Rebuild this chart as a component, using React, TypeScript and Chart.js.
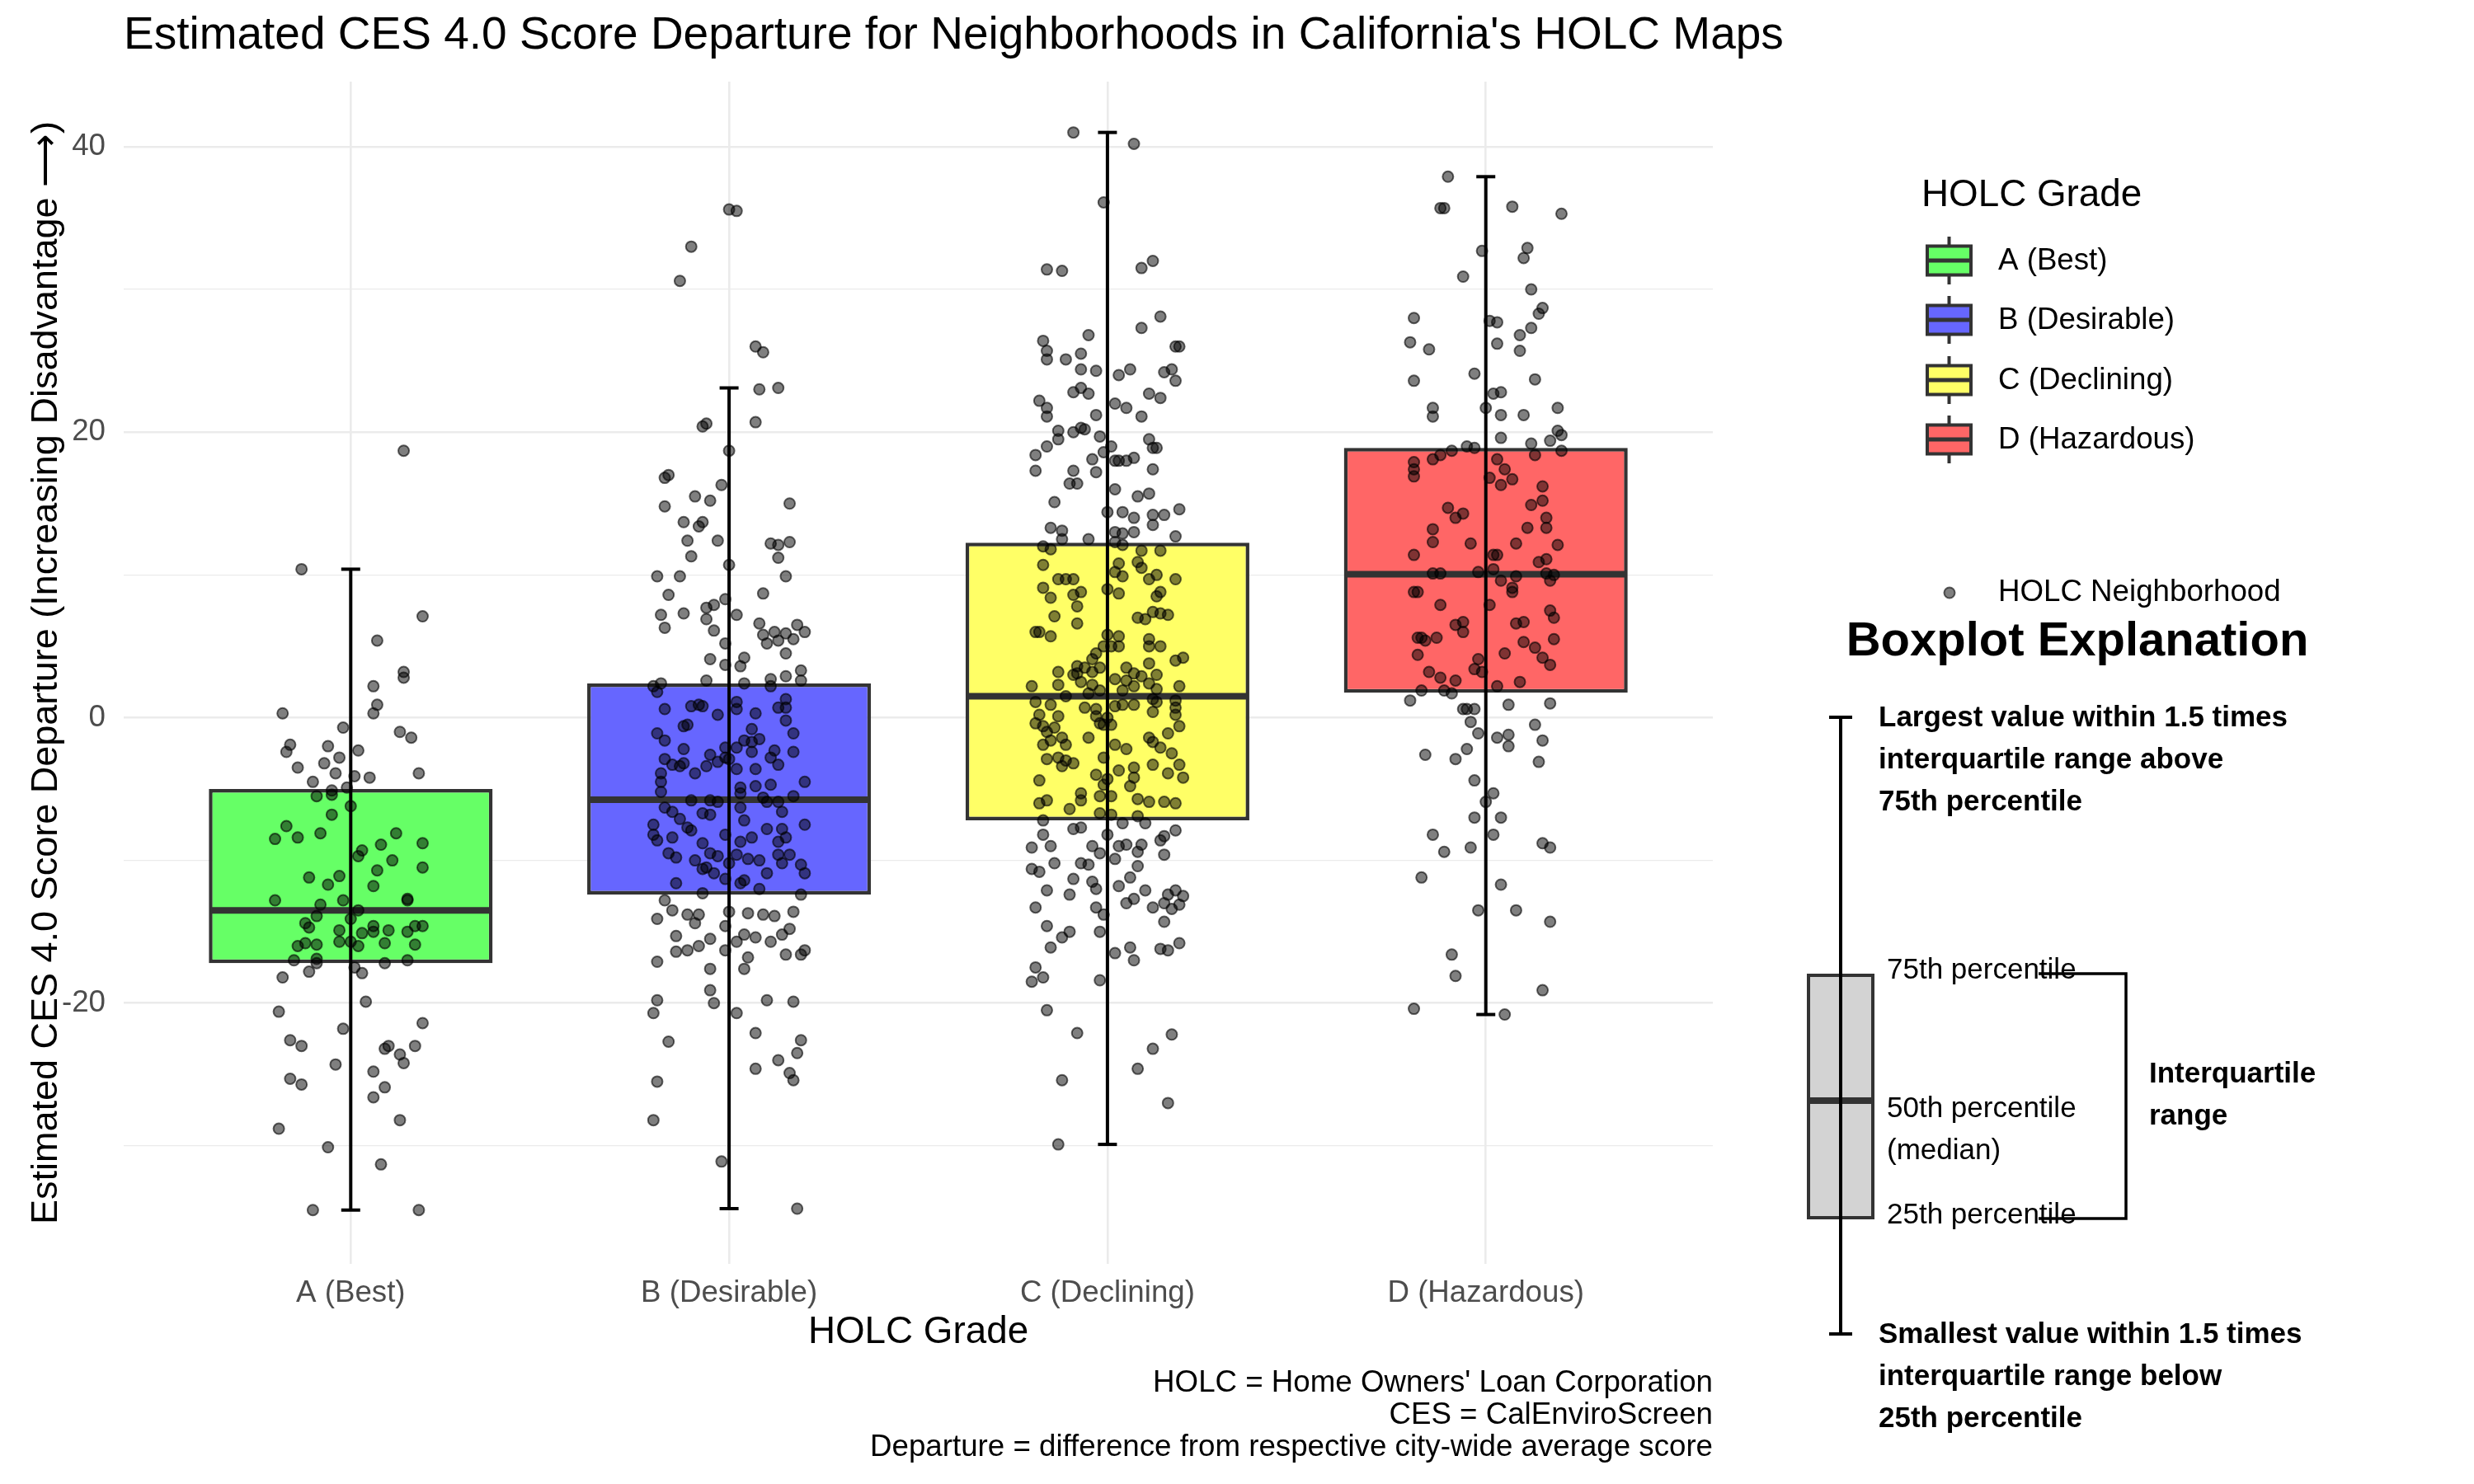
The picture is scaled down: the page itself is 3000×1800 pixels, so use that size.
import React, { useEffect, useRef } from "react";
import { Chart, registerables } from "chart.js";

Chart.register(...registerables);

const FONT = '"Liberation Sans", Arial, Helvetica, sans-serif';

// ---------------- data ----------------
const TITLE = "Estimated CES 4.0 Score Departure for Neighborhoods in California's HOLC Maps";
const Y_TITLE = "Estimated CES 4.0 Score Departure (Increasing Disadvantage \u27F6)";
const X_TITLE = "HOLC Grade";
const CAPTION = [
  "HOLC = Home Owners' Loan Corporation",
  "CES = CalEnviroScreen",
  "Departure = difference from respective city-wide average score",
];
const CATEGORIES = ["A (Best)", "B (Desirable)", "C (Declining)", "D (Hazardous)"];
const BOX_FILLS = ["#66FF66", "#6666FF", "#FFFF66", "#FF6666"];

// box statistics per grade
const Q1 = [-17.2, -12.4, -7.2, 1.75];
const MEDIAN = [-13.5, -5.75, 1.5, 10.05];
const Q3 = [-5.0, 2.4, 12.25, 18.9];
const WHISKER_LOW = [-34.5, -34.4, -29.9, -20.8];
const WHISKER_HIGH = [10.4, 23.1, 41.0, 37.9];

// y axis
const Y_MIN = -38.27;
const Y_MAX = 44.56;
const Y_GRID = [-30, -20, -10, 0, 10, 20, 30, 40];
const Y_LABELED = [-20, 0, 20, 40];

// neighborhood points: [horizontal jitter, score]
const GRADE_A_POINTS: [number, number][] = [
  [0.14, 18.7], [-0.13, 10.4], [0.19, 7.1], [0.07, 5.4], [0.14, 3.2], [0.14, 2.8], [0.06, 2.2], [0.07, 0.9],
  [0.06, 0.3], [-0.18, 0.3], [-0.02, -0.7], [0.13, -1.0], [0.16, -1.4], [-0.16, -1.9], [-0.17, -2.4], [-0.06, -2.0],
  [-0.03, -2.8], [-0.07, -3.2], [0.02, -2.3], [-0.14, -3.5], [-0.04, -3.9], [0.01, -4.1], [0.05, -4.2], [0.18, -3.9],
  [-0.1, -4.5], [-0.05, -5.1], [-0.01, -4.9], [-0.09, -5.5], [-0.05, -5.4], [0.0, -6.2], [-0.05, -6.8], [-0.17, -7.6],
  [-0.2, -8.5], [-0.14, -8.4], [-0.08, -8.1], [0.12, -8.1], [0.19, -8.8], [0.03, -9.3], [0.02, -9.7], [0.08, -8.9],
  [0.11, -10.0], [0.07, -10.7], [0.19, -10.5], [-0.11, -11.2], [-0.03, -11.1], [-0.06, -11.7], [0.06, -11.8],
  [-0.2, -12.8], [-0.02, -12.8], [0.15, -12.8], [0.15, -12.7], [-0.08, -13.1], [0.02, -13.5], [-0.09, -13.9],
  [0.0, -14.1], [-0.12, -14.4], [-0.11, -14.7], [-0.03, -14.9], [0.06, -14.6], [0.03, -15.1], [0.06, -15.0],
  [0.1, -14.9], [0.15, -15.0], [0.17, -14.6], [0.19, -14.6], [-0.12, -15.8], [-0.14, -16.0], [-0.09, -15.9],
  [-0.03, -15.7], [0.0, -15.7], [0.02, -16.0], [0.09, -15.8], [0.17, -15.9], [-0.15, -17.0], [-0.09, -16.9],
  [-0.09, -17.2], [0.01, -17.5], [0.09, -17.2], [0.15, -17.0], [-0.11, -17.8], [0.03, -17.9], [-0.18, -18.2],
  [0.04, -19.9], [-0.19, -20.6], [0.19, -21.4], [-0.02, -21.8], [-0.16, -22.6], [-0.13, -23.0], [0.1, -23.0],
  [0.09, -23.2], [0.17, -23.0], [0.13, -23.6], [0.14, -24.2], [-0.04, -24.3], [0.06, -24.8], [-0.16, -25.3],
  [-0.13, -25.7], [0.09, -25.9], [0.06, -26.6], [0.13, -28.2], [-0.19, -28.8], [-0.06, -30.1], [0.08, -31.3],
  [-0.1, -34.5], [0.18, -34.5],
];

const GRADE_B_POINTS: [number, number][] = [
  [0.0, 35.6], [0.02, 35.5], [-0.1, 33.0], [-0.13, 30.6], [0.07, 26.0], [0.09, 25.6], [0.08, 23.0], [0.13, 23.1],
  [-0.07, 20.4], [-0.06, 20.6], [0.07, 20.7], [0.0, 18.7], [-0.16, 17.0], [-0.17, 16.8], [-0.02, 16.3], [-0.09, 15.5],
  [-0.05, 15.2], [-0.17, 14.8], [0.16, 15.0], [-0.12, 13.7], [-0.08, 13.4], [-0.07, 13.7], [-0.11, 12.4], [-0.03, 12.4],
  [0.11, 12.2], [0.13, 12.1], [0.16, 12.3], [-0.1, 11.3], [0.0, 10.7], [0.13, 11.2], [-0.19, 9.9], [-0.13, 9.9],
  [0.15, 9.9], [-0.16, 8.6], [0.09, 8.7], [-0.01, 8.3], [-0.18, 7.2], [-0.12, 7.3], [-0.06, 7.7], [-0.04, 7.9],
  [-0.17, 6.3], [-0.06, 6.9], [-0.04, 6.1], [0.02, 7.2], [0.08, 6.6], [0.09, 5.8], [0.12, 6.0], [0.15, 5.9],
  [0.18, 6.5], [0.2, 6.0], [0.1, 5.2], [0.13, 5.4], [0.17, 5.5], [-0.01, 5.2], [0.15, 4.5], [-0.05, 4.1],
  [0.04, 4.2], [0.03, 3.6], [-0.01, 3.7], [0.19, 3.3], [-0.18, 2.4], [-0.06, 2.6], [0.04, 2.4], [0.11, 2.7],
  [0.15, 2.9], [0.19, 2.6], [-0.2, 2.2], [-0.19, 1.8], [0.11, 2.2], [-0.1, 0.8], [-0.08, 0.9], [-0.07, 0.8],
  [0.02, 1.1], [0.02, 0.6], [0.13, 0.7], [0.15, 1.3], [-0.17, 0.6], [-0.03, 0.2], [0.15, 0.7], [0.07, 0.3],
  [0.15, -0.2], [-0.12, -0.6], [-0.11, -0.5], [-0.19, -1.1], [0.06, -0.8], [0.17, -1.1], [-0.17, -1.6], [0.04, -1.6],
  [0.06, -1.7], [0.08, -1.5], [-0.12, -2.2], [-0.01, -2.1], [0.02, -2.1], [0.06, -2.4], [0.12, -2.3], [0.17, -2.4],
  [-0.17, -2.9], [-0.05, -2.6], [-0.03, -3.1], [-0.01, -2.8], [0.0, -2.9], [0.11, -2.8], [-0.15, -3.3], [-0.13, -3.4],
  [-0.12, -3.2], [-0.09, -3.9], [-0.06, -3.4], [0.02, -3.6], [0.07, -3.6], [0.13, -3.3], [-0.18, -3.9], [-0.18, -4.5],
  [-0.18, -5.2], [0.03, -4.9], [0.07, -4.8], [0.11, -4.7], [0.2, -4.5], [-0.1, -5.8], [-0.05, -5.8], [-0.03, -5.9],
  [0.03, -5.3], [0.09, -5.6], [0.1, -5.9], [0.13, -5.9], [0.17, -5.5], [-0.17, -6.3], [-0.15, -6.6], [-0.07, -6.7],
  [-0.05, -6.8], [0.03, -6.3], [0.14, -6.6], [-0.13, -7.1], [-0.2, -7.5], [-0.11, -7.7], [0.04, -7.2], [0.1, -7.8],
  [0.14, -7.8], [0.2, -7.5], [-0.2, -8.2], [-0.19, -8.6], [-0.15, -8.4], [-0.1, -7.9], [-0.07, -8.8], [-0.01, -8.2],
  [0.03, -8.7], [0.06, -8.4], [0.13, -8.7], [0.15, -8.4], [-0.16, -9.5], [-0.14, -9.8], [-0.05, -9.5], [-0.03, -9.7],
  [0.0, -10.2], [0.02, -9.6], [0.05, -9.9], [0.08, -10.0], [0.13, -9.6], [0.16, -9.6], [-0.09, -10.0], [-0.07, -10.6],
  [-0.06, -10.5], [-0.04, -10.9], [-0.01, -11.3], [0.03, -11.6], [0.1, -10.9], [0.14, -10.2], [0.19, -10.3],
  [0.2, -10.9], [-0.14, -11.6], [-0.07, -12.3], [0.04, -11.4], [0.08, -12.0], [0.19, -12.4], [-0.17, -12.8],
  [-0.15, -13.5], [-0.11, -13.8], [-0.08, -13.8], [0.0, -13.6], [0.05, -13.7], [0.09, -13.8], [0.17, -13.6],
  [-0.19, -14.1], [-0.09, -14.4], [-0.01, -14.6], [0.12, -13.9], [-0.14, -15.3], [-0.05, -15.5], [0.02, -15.7],
  [0.04, -15.2], [0.07, -15.4], [0.11, -15.7], [0.14, -15.2], [0.16, -14.8], [-0.14, -16.4], [-0.11, -16.3],
  [-0.08, -16.0], [-0.01, -16.3], [0.05, -16.8], [0.15, -16.6], [0.19, -16.6], [0.2, -16.3], [-0.19, -17.1],
  [-0.05, -17.6], [0.04, -17.6], [-0.05, -19.1], [-0.04, -20.0], [-0.19, -19.8], [-0.2, -20.7], [0.02, -20.7],
  [0.1, -19.8], [0.17, -19.9], [-0.16, -22.7], [0.07, -22.1], [0.19, -22.6], [0.18, -23.5], [0.13, -24.0],
  [0.07, -24.6], [0.16, -24.9], [0.17, -25.4], [-0.19, -25.5], [-0.2, -28.2], [-0.02, -31.1], [0.18, -34.4],
];

const GRADE_C_POINTS: [number, number][] = [
  [-0.09, 41.0], [0.07, 40.2], [-0.01, 36.1], [-0.16, 31.4], [-0.12, 31.3], [0.09, 31.5], [0.12, 32.0], [0.14, 28.1],
  [0.09, 27.3], [-0.05, 26.8], [-0.17, 26.4], [-0.16, 25.7], [-0.16, 25.1], [-0.11, 25.1], [-0.07, 25.5], [0.18, 26.0],
  [0.19, 26.0], [-0.07, 24.4], [-0.03, 24.3], [0.03, 24.0], [0.06, 24.4], [0.15, 24.2], [0.17, 24.4], [0.18, 23.6],
  [-0.09, 22.8], [-0.07, 23.1], [-0.05, 22.7], [0.11, 22.7], [0.14, 22.4], [-0.18, 22.2], [-0.16, 21.7], [-0.16, 21.1],
  [0.02, 22.0], [0.05, 21.7], [-0.03, 21.2], [0.09, 21.1], [-0.13, 20.1], [-0.09, 20.0], [-0.07, 20.3], [-0.06, 20.2],
  [-0.13, 19.5], [-0.02, 19.7], [-0.16, 19.0], [0.01, 19.0], [0.11, 19.5], [0.12, 18.9], [0.13, 18.9], [-0.19, 18.4],
  [-0.01, 18.6], [-0.04, 18.1], [0.02, 18.0], [0.03, 18.0], [0.05, 18.0], [0.07, 18.2], [-0.19, 17.3], [-0.09, 17.3],
  [-0.03, 17.2], [0.12, 17.4], [-0.1, 16.4], [-0.08, 16.4], [0.02, 16.0], [0.08, 15.5], [0.11, 15.7], [-0.14, 15.1],
  [0.0, 14.4], [0.04, 14.4], [0.07, 14.0], [0.12, 14.2], [0.15, 14.2], [0.19, 14.6], [-0.15, 13.3], [-0.12, 13.1],
  [0.02, 13.0], [0.04, 12.9], [0.07, 13.0], [0.12, 13.5], [0.18, 12.7], [-0.12, 12.5], [-0.05, 12.5], [-0.17, 12.0],
  [-0.15, 11.8], [0.02, 12.3], [0.04, 12.1], [0.09, 11.7], [0.14, 11.7], [-0.17, 10.7], [0.03, 10.8], [0.08, 10.9],
  [0.09, 10.5], [0.02, 10.2], [0.04, 9.9], [-0.13, 9.7], [-0.11, 9.7], [-0.09, 9.7], [0.11, 9.7], [0.13, 10.0],
  [0.18, 9.7], [-0.17, 9.1], [-0.15, 8.4], [-0.09, 8.6], [-0.07, 8.8], [0.0, 9.0], [0.03, 8.7], [0.13, 8.5],
  [0.14, 8.8], [-0.08, 7.8], [-0.14, 7.1], [0.08, 7.0], [0.1, 6.9], [0.12, 7.4], [0.14, 7.3], [0.16, 7.2],
  [-0.08, 6.6], [-0.19, 6.0], [-0.18, 6.0], [-0.15, 5.7], [0.0, 5.8], [0.03, 5.7], [0.11, 5.5], [-0.01, 5.0],
  [0.01, 5.0], [0.03, 5.0], [0.11, 5.0], [0.14, 5.0], [-0.03, 4.5], [-0.04, 4.1], [0.11, 3.8], [0.18, 4.0],
  [0.2, 4.2], [-0.13, 3.2], [-0.08, 3.6], [-0.08, 3.1], [-0.06, 3.5], [-0.04, 3.2], [-0.02, 3.5], [0.05, 3.5],
  [0.07, 3.1], [0.09, 2.9], [0.13, 3.0], [-0.13, 2.3], [-0.09, 3.0], [-0.07, 2.5], [-0.04, 2.3], [0.02, 2.7],
  [0.05, 2.6], [0.07, 2.2], [0.11, 2.4], [0.13, 2.0], [-0.2, 2.2], [0.19, 2.2], [-0.11, 1.5], [-0.05, 1.7],
  [-0.02, 1.9], [0.04, 1.9], [0.12, 1.3], [0.13, 1.1], [0.18, 1.2], [-0.19, 1.1], [-0.15, 0.9], [-0.06, 0.7],
  [-0.03, 0.6], [0.02, 0.8], [0.04, 0.9], [0.07, 0.9], [0.18, 0.7], [0.12, 0.4], [-0.18, 0.2], [-0.13, 0.1],
  [-0.03, 0.1], [0.0, 0.0], [0.18, 0.2], [-0.19, -0.4], [-0.17, -0.6], [-0.16, -1.0], [-0.14, -0.7], [-0.02, -0.4],
  [-0.01, -0.5], [0.01, -0.5], [0.19, -0.6], [0.16, -1.1], [-0.15, -1.6], [-0.12, -1.4], [-0.05, -1.4], [0.11, -1.4],
  [0.12, -1.7], [-0.17, -1.9], [-0.11, -1.9], [0.02, -1.9], [0.05, -2.2], [0.14, -2.1], [0.17, -2.5], [-0.16, -2.9],
  [-0.13, -2.8], [-0.01, -2.8], [-0.11, -3.0], [-0.12, -3.4], [-0.09, -3.2], [0.12, -3.3], [0.19, -3.3], [0.07, -3.5],
  [0.03, -3.7], [0.16, -3.9], [-0.03, -4.0], [0.0, -4.3], [0.07, -4.2], [-0.18, -4.4], [0.2, -4.2], [0.06, -4.8],
  [-0.01, -4.7], [-0.07, -5.3], [0.01, -5.5], [-0.18, -6.0], [-0.16, -5.8], [-0.1, -6.4], [-0.07, -5.8], [-0.02, -5.5],
  [0.08, -5.7], [0.11, -5.9], [0.15, -5.9], [0.18, -6.0], [-0.02, -6.7], [0.01, -6.8], [0.08, -6.9], [-0.17, -7.2],
  [-0.09, -7.8], [-0.07, -7.7], [0.04, -7.4], [0.1, -7.4], [-0.17, -8.2], [0.0, -8.2], [0.18, -7.9], [-0.2, -9.1],
  [-0.15, -9.0], [-0.04, -9.0], [0.03, -9.0], [0.05, -8.9], [0.09, -8.9], [0.14, -8.6], [0.15, -8.3], [-0.02, -9.5],
  [0.02, -9.9], [0.08, -9.4], [0.15, -9.6], [-0.14, -10.2], [-0.07, -10.2], [-0.05, -10.3], [-0.2, -10.6], [-0.18, -10.8],
  [0.08, -10.4], [-0.09, -11.3], [-0.04, -11.5], [0.06, -11.2], [0.03, -11.8], [-0.03, -12.0], [-0.16, -12.1],
  [-0.1, -12.4], [0.1, -12.1], [0.16, -12.4], [0.18, -12.1], [0.2, -12.5], [0.05, -13.0], [0.07, -12.7], [0.15, -13.0],
  [-0.19, -13.3], [-0.03, -13.3], [0.12, -13.3], [0.17, -13.4], [0.19, -13.1], [-0.01, -13.8], [0.15, -14.3],
  [-0.16, -14.6], [-0.1, -15.0], [-0.12, -15.4], [-0.02, -15.0], [-0.15, -16.1], [0.02, -16.5], [0.06, -16.1],
  [0.14, -16.2], [0.16, -16.3], [0.19, -15.8], [0.07, -17.0], [-0.19, -17.5], [-0.2, -18.5], [-0.17, -18.2],
  [-0.02, -18.4], [-0.16, -20.5], [-0.08, -22.1], [0.17, -22.2], [0.12, -23.2], [0.08, -24.6], [-0.12, -25.4],
  [0.16, -27.0], [-0.13, -29.9],
];

const GRADE_D_POINTS: [number, number][] = [
  [-0.1, 37.9], [-0.12, 35.7], [-0.11, 35.7], [0.07, 35.8], [0.2, 35.3], [-0.01, 32.7], [0.11, 32.9], [0.1, 32.2],
  [-0.06, 30.9], [0.12, 30.0], [0.15, 28.7], [0.14, 28.3], [-0.19, 28.0], [0.01, 27.8], [0.03, 27.7], [0.12, 27.3],
  [0.09, 26.8], [-0.2, 26.3], [-0.15, 25.8], [0.03, 26.2], [0.09, 25.7], [-0.19, 23.6], [-0.03, 24.1], [0.13, 23.7],
  [0.02, 22.7], [0.04, 22.8], [-0.14, 21.7], [-0.14, 21.1], [0.0, 21.7], [0.04, 21.2], [0.1, 21.2], [0.19, 21.7],
  [0.04, 19.6], [0.17, 19.4], [0.19, 20.1], [0.2, 19.8], [0.12, 19.2], [-0.09, 18.7], [-0.05, 19.0], [-0.03, 18.9],
  [0.2, 18.7], [-0.14, 18.1], [-0.12, 18.4], [0.03, 18.1], [0.13, 18.4], [-0.19, 17.9], [-0.19, 17.4], [-0.19, 16.9],
  [0.05, 17.4], [0.01, 16.8], [0.04, 16.3], [0.07, 16.7], [0.15, 16.2], [0.15, 15.2], [-0.1, 14.7], [0.12, 14.9],
  [-0.08, 14.0], [-0.06, 14.3], [0.16, 14.0], [0.16, 13.3], [-0.14, 13.2], [0.11, 13.3], [-0.14, 12.3], [-0.04, 12.2],
  [0.08, 12.2], [0.19, 12.1], [-0.19, 11.4], [0.02, 11.4], [0.03, 11.4], [0.14, 10.9], [0.16, 11.1], [-0.14, 10.1],
  [-0.12, 10.1], [-0.02, 10.2], [0.02, 10.4], [0.16, 10.1], [0.18, 10.0], [0.04, 9.6], [0.08, 9.9], [0.17, 9.6],
  [0.07, 9.1], [0.07, 8.8], [-0.19, 8.8], [-0.18, 8.8], [-0.12, 7.9], [0.01, 7.9], [0.17, 7.5], [0.18, 7.0],
  [-0.08, 6.5], [-0.06, 6.7], [-0.06, 6.0], [0.08, 6.6], [0.1, 6.7], [-0.18, 5.6], [-0.17, 5.6], [-0.13, 5.6],
  [-0.16, 5.4], [0.1, 5.3], [0.18, 5.5], [-0.18, 4.4], [0.05, 4.5], [0.13, 4.9], [0.15, 4.2], [0.17, 3.7],
  [-0.02, 4.1], [-0.15, 3.2], [-0.03, 3.4], [-0.01, 3.2], [-0.12, 2.8], [-0.08, 2.6], [0.09, 2.5], [0.03, 2.2],
  [-0.17, 1.9], [-0.11, 1.9], [-0.09, 1.7], [-0.2, 1.2], [-0.06, 0.6], [-0.05, 0.6], [-0.03, 0.6], [0.06, 0.9],
  [0.17, 1.0], [-0.04, -0.3], [-0.02, -1.1], [0.13, -0.5], [0.03, -1.4], [0.06, -1.2], [0.06, -2.0], [0.15, -1.6],
  [-0.05, -2.2], [-0.16, -2.6], [-0.08, -2.9], [0.14, -3.1], [-0.03, -4.4], [0.02, -5.3], [0.0, -5.9], [-0.03, -7.0],
  [0.04, -7.0], [0.02, -8.2], [-0.14, -8.2], [-0.11, -9.4], [-0.04, -9.1], [0.15, -8.8], [0.17, -9.1], [-0.17, -11.2],
  [0.04, -11.7], [-0.02, -13.5], [0.08, -13.5], [0.17, -14.3], [-0.09, -16.6], [-0.08, -18.1], [0.15, -19.1],
  [-0.19, -20.4], [0.05, -20.8],
];

const ALL_POINTS = [GRADE_A_POINTS, GRADE_B_POINTS, GRADE_C_POINTS, GRADE_D_POINTS];

// explanation panel texts
const EXPLAIN_TITLE = "Boxplot Explanation";
const EXPLAIN_TOP = ["Largest value within 1.5 times", "interquartile range above", "75th percentile"];
const EXPLAIN_BOTTOM = ["Smallest value within 1.5 times", "interquartile range below", "25th percentile"];
const EXPLAIN_IQR = ["Interquartile", "range"];
const POINT_LEGEND = "HOLC Neighborhood";

// ---------------- styling constants ----------------
const BOX_WIDTH = 0.75;
const CAP_HALF = 11.5;
const GRID_COLOR = "#EBEBEB";
const OUTLINE = "#333333";
const POINT_FILL = "rgba(0,0,0,0.5)";
const POINT_EDGE = "rgba(0,0,0,0.6)";

function line(ctx: CanvasRenderingContext2D, x0: number, y0: number, x1: number, y1: number) {
  ctx.beginPath();
  ctx.moveTo(x0, y0);
  ctx.lineTo(x1, y1);
  ctx.stroke();
}

function text(
  ctx: CanvasRenderingContext2D,
  s: string,
  x: number,
  y: number,
  size: number,
  opts: { bold?: boolean; align?: CanvasTextAlign; color?: string } = {}
) {
  ctx.font = `${opts.bold ? "bold " : ""}${size}px ${FONT}`;
  ctx.fillStyle = opts.color || "#000000";
  ctx.textAlign = opts.align || "left";
  ctx.textBaseline = "middle";
  ctx.fillText(s, x, y);
}

const boxPlugin = {
  id: "boxExtras",
  afterDatasetDraw(chart: any, args: any) {
    if (args.index !== 0) return;
    const { ctx } = chart;
    const x = chart.scales.x;
    const y = chart.scales.y;
    ctx.save();
    ctx.strokeStyle = OUTLINE;
    ctx.lineWidth = 8;
    MEDIAN.forEach((m, i) => {
      const x0 = x.getPixelForValue(i + 1 - BOX_WIDTH / 2) + 2;
      const x1 = x.getPixelForValue(i + 1 + BOX_WIDTH / 2) - 2;
      const yy = y.getPixelForValue(m);
      line(ctx, x0, yy, x1, yy);
    });
    ctx.restore();
  },
  afterDatasetsDraw(chart: any) {
    const { ctx } = chart;
    const x = chart.scales.x;
    const y = chart.scales.y;
    ctx.save();
    ctx.strokeStyle = "#000000";
    ctx.lineWidth = 4;
    CATEGORIES.forEach((_, i) => {
      const cx = x.getPixelForValue(i + 1);
      const yl = y.getPixelForValue(WHISKER_LOW[i]);
      const yh = y.getPixelForValue(WHISKER_HIGH[i]);
      line(ctx, cx, yl, cx, yh);
      line(ctx, cx - CAP_HALF, yl, cx + CAP_HALF, yl);
      line(ctx, cx - CAP_HALF, yh, cx + CAP_HALF, yh);
    });
    ctx.restore();
  },
  afterDraw(chart: any) {
    const { ctx, chartArea } = chart;
    ctx.save();
    // title
    text(ctx, TITLE, 150, 44, 55);
    // axis titles
    text(ctx, X_TITLE, (chartArea.left + chartArea.right) / 2, 1616, 45.8, { align: "center" });
    ctx.save();
    ctx.translate(57, (chartArea.top + chartArea.bottom) / 2);
    ctx.rotate(-Math.PI / 2);
    text(ctx, Y_TITLE, 0, 0, 45, { align: "center" });
    ctx.restore();
    // caption
    CAPTION.forEach((c, i) => text(ctx, c, chartArea.right, 1678 + i * 39, 36.7, { align: "right" }));

    // legend
    text(ctx, "HOLC Grade", 2330, 237, 45.8);
    const rows = [316, 388, 461, 533];
    CATEGORIES.forEach((c, i) => {
      const cx = 2363.5;
      const cy = rows[i];
      ctx.strokeStyle = OUTLINE;
      ctx.lineWidth = 4;
      line(ctx, cx, cy - 29, cx, cy - 19);
      line(ctx, cx, cy + 19, cx, cy + 29);
      ctx.fillStyle = BOX_FILLS[i];
      ctx.fillRect(cx - 26.5, cy - 17.5, 53, 35);
      ctx.strokeRect(cx - 26.5, cy - 17.5, 53, 35);
      ctx.lineWidth = 5;
      line(ctx, cx - 26.5, cy, cx + 26.5, cy);
      text(ctx, c, 2423, cy + 1, 36.7);
    });
    // point legend
    ctx.beginPath();
    ctx.arc(2364, 719, 6.5, 0, Math.PI * 2);
    ctx.fillStyle = POINT_FILL;
    ctx.fill();
    ctx.strokeStyle = POINT_EDGE;
    ctx.lineWidth = 2;
    ctx.stroke();
    text(ctx, POINT_LEGEND, 2423, 719, 36.7);

    // explanation panel
    text(ctx, EXPLAIN_TITLE, 2519, 779, 58, { bold: true, align: "center" });
    ctx.fillStyle = "#D3D3D3";
    ctx.fillRect(2193, 1183, 78, 294);
    ctx.strokeStyle = OUTLINE;
    ctx.lineWidth = 4;
    ctx.strokeRect(2193, 1183, 78, 294);
    ctx.lineWidth = 8;
    line(ctx, 2193, 1335, 2271, 1335);
    ctx.strokeStyle = "#000000";
    ctx.lineWidth = 4;
    line(ctx, 2232, 870, 2232, 1618);
    line(ctx, 2218, 870, 2246, 870);
    line(ctx, 2218, 1618, 2246, 1618);
    EXPLAIN_TOP.forEach((s, i) => text(ctx, s, 2278, 871 + i * 51, 35, { bold: true }));
    EXPLAIN_BOTTOM.forEach((s, i) => text(ctx, s, 2278, 1619 + i * 51, 35, { bold: true }));
    text(ctx, "75th percentile", 2288, 1177, 35);
    text(ctx, "50th percentile", 2288, 1345, 35);
    text(ctx, "(median)", 2288, 1396, 35);
    text(ctx, "25th percentile", 2288, 1474, 35);
    ctx.strokeStyle = "#000000";
    ctx.lineWidth = 3.5;
    ctx.beginPath();
    ctx.moveTo(2472, 1181);
    ctx.lineTo(2578, 1181);
    ctx.lineTo(2578, 1478);
    ctx.lineTo(2472, 1478);
    ctx.stroke();
    EXPLAIN_IQR.forEach((s, i) => text(ctx, s, 2606, 1303 + i * 51, 35, { bold: true }));
    ctx.restore();
  },
};

export default function App() {
  const ref = useRef<HTMLCanvasElement>(null);
  useEffect(() => {
    const canvas = ref.current;
    if (!canvas) return;
    const boxData = CATEGORIES.map((_, i) => ({ x: i + 1, y: [Q1[i], Q3[i]] }));
    const pointData: { x: number; y: number }[] = [];
    ALL_POINTS.forEach((pts, i) => pts.forEach(([j, v]) => pointData.push({ x: i + 1 + j, y: v })));

    const chart = new Chart(canvas, {
      type: "scatter",
      data: {
        datasets: [
          {
            type: "bar",
            label: "boxes",
            data: boxData as any,
            backgroundColor: BOX_FILLS,
            borderColor: OUTLINE,
            borderWidth: 4.5,
            borderSkipped: false,
            barPercentage: BOX_WIDTH,
            categoryPercentage: 1,
            order: 2,
          } as any,
          {
            type: "scatter",
            label: "HOLC Neighborhood",
            data: pointData,
            pointRadius: 6.5,
            pointBackgroundColor: POINT_FILL,
            pointBorderColor: POINT_EDGE,
            pointBorderWidth: 2,
            order: 1,
          } as any,
        ],
      },
      options: {
        responsive: false,
        maintainAspectRatio: false,
        devicePixelRatio: 1,
        animation: false,
        events: [],
        layout: { padding: { left: 0, top: 99, right: 923, bottom: 0 } },
        plugins: { legend: { display: false }, tooltip: { enabled: false }, title: { display: false } },
        scales: {
          x: {
            type: "linear",
            min: 0.4,
            max: 4.6,
            offset: false,
            afterBuildTicks: (s: any) => {
              s.ticks = CATEGORIES.map((_, i) => ({ value: i + 1 }));
            },
            afterFit: (s: any) => {
              s.height = 267;
            },
            ticks: {
              autoSkip: false,
              maxRotation: 0,
              padding: 14,
              color: "#4D4D4D",
              font: { family: FONT, size: 36.7 },
              callback: (v: any) => CATEGORIES[Math.round(Number(v)) - 1] ?? "",
            },
            grid: { color: GRID_COLOR, lineWidth: 2.6, drawTicks: false, offset: false },
            border: { display: false },
          },
          y: {
            type: "linear",
            min: Y_MIN,
            max: Y_MAX,
            afterBuildTicks: (s: any) => {
              s.ticks = Y_GRID.map((v) => ({ value: v }));
            },
            afterFit: (s: any) => {
              s.width = 150;
            },
            ticks: {
              autoSkip: false,
              padding: 22,
              color: "#4D4D4D",
              font: { family: FONT, size: 36.7 },
              callback: (v: any) => (Y_LABELED.includes(Number(v)) ? String(v) : ""),
            },
            grid: {
              color: GRID_COLOR,
              lineWidth: (c: any) => (c.tick && Y_LABELED.includes(c.tick.value) ? 2.6 : 1.3),
              drawTicks: false,
            },
            border: { display: false },
          },
        },
      } as any,
      plugins: [boxPlugin as any],
    });
    return () => chart.destroy();
  }, []);

  return (
    <div style={{ position: "absolute", left: 0, top: 0, width: 3000, height: 1800, background: "#ffffff" }}>
      <canvas ref={ref} width={3000} height={1800} style={{ width: 3000, height: 1800, display: "block" }} />
    </div>
  );
}
